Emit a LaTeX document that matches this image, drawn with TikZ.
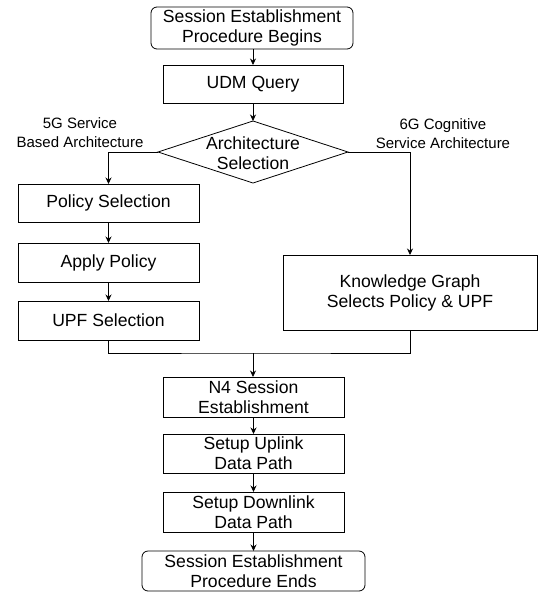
\documentclass[tikz,border=0pt]{standalone}
\usepackage{fontspec}
\setmainfont{Liberation Sans}
\usetikzlibrary{arrows.meta,shapes.geometric}
\begin{document}
\begin{tikzpicture}[x=1pt,y=-1pt,
  every node/.style={inner sep=0pt, outer sep=0pt},
  box/.style={draw, line width=0.8pt, align=center, font=\fontsize{17.6}{20}\selectfont},
  rbox/.style={box, rounded corners=6pt},
  lbl/.style={align=center, font=\fontsize{15}{19}\selectfont},
  conn/.style={line width=0.8pt},
  arr/.style={conn, -{Stealth[length=6.5pt,width=6pt]}}]
\useasboundingbox (0,0) rectangle (538,592);
\node[rbox, minimum width=202pt, minimum height=42pt] (start) at (252,28) {Session Establishment\\Procedure Begins};
\node[box, minimum width=180pt, minimum height=38pt] (udm) at (253,84) {UDM Query};
\node[diamond, draw, line width=0.8pt, minimum width=190pt, minimum height=62pt] (arch) at (253,152) {};
\node[align=center, font=\fontsize{17.6}{20}\selectfont] (archtxt) at (253,153) {Architecture\\Selection};
\node[lbl] (l5g) at (80,132.5) {5G Service\\Based Architecture};
\node[lbl] (l6g) at (443,134) {6G Cognitive\\Service Architecture};
\node[box, minimum width=181pt, minimum height=38pt] (policy) at (108.5,203) {Policy Selection};
\node[box, minimum width=181pt, minimum height=39pt] (apply) at (108.5,262.5) {Apply Policy};
\node[box, minimum width=181pt, minimum height=39pt] (upf) at (108.5,320.5) {UPF Selection};
\node[box, minimum width=254pt, minimum height=75pt] (kg) at (410,292.5) {Knowledge Graph\\Selects Policy \& UPF};
\coordinate (m) at (253,353);
\node[box, minimum width=181pt, minimum height=40pt] (n4) at (253.5,397) {N4 Session\\Establishment};
\node[box, minimum width=181pt, minimum height=39pt] (up) at (253.5,453.5) {Setup Uplink\\ Data Path};
\node[box, minimum width=181pt, minimum height=40pt] (down) at (253.5,512) {Setup Downlink\\Data Path};
\node[rbox, minimum width=223pt, minimum height=40pt] (end) at (253.5,571) {Session Establishment\\Procedure Ends};
\draw[arr] (start.south -| udm.north) -- (udm.north);
\draw[arr] (udm.south) -- (arch.north);
\draw[arr] (arch.west) -| (policy.north);
\draw[arr] (arch.east) -| (kg.north);
\draw[arr] (policy.south) -- (apply.north);
\draw[arr] (apply.south) -- (upf.north);
\draw[conn] (upf.south) |- (m) -| (kg.south);
\draw[arr] (m) -- (m |- n4.north);
\draw[arr] (n4.south) -- (up.north);
\draw[arr] (up.south) -- (down.north);
\draw[arr] (down.south) -- (end.north);
\end{tikzpicture}
\end{document}
